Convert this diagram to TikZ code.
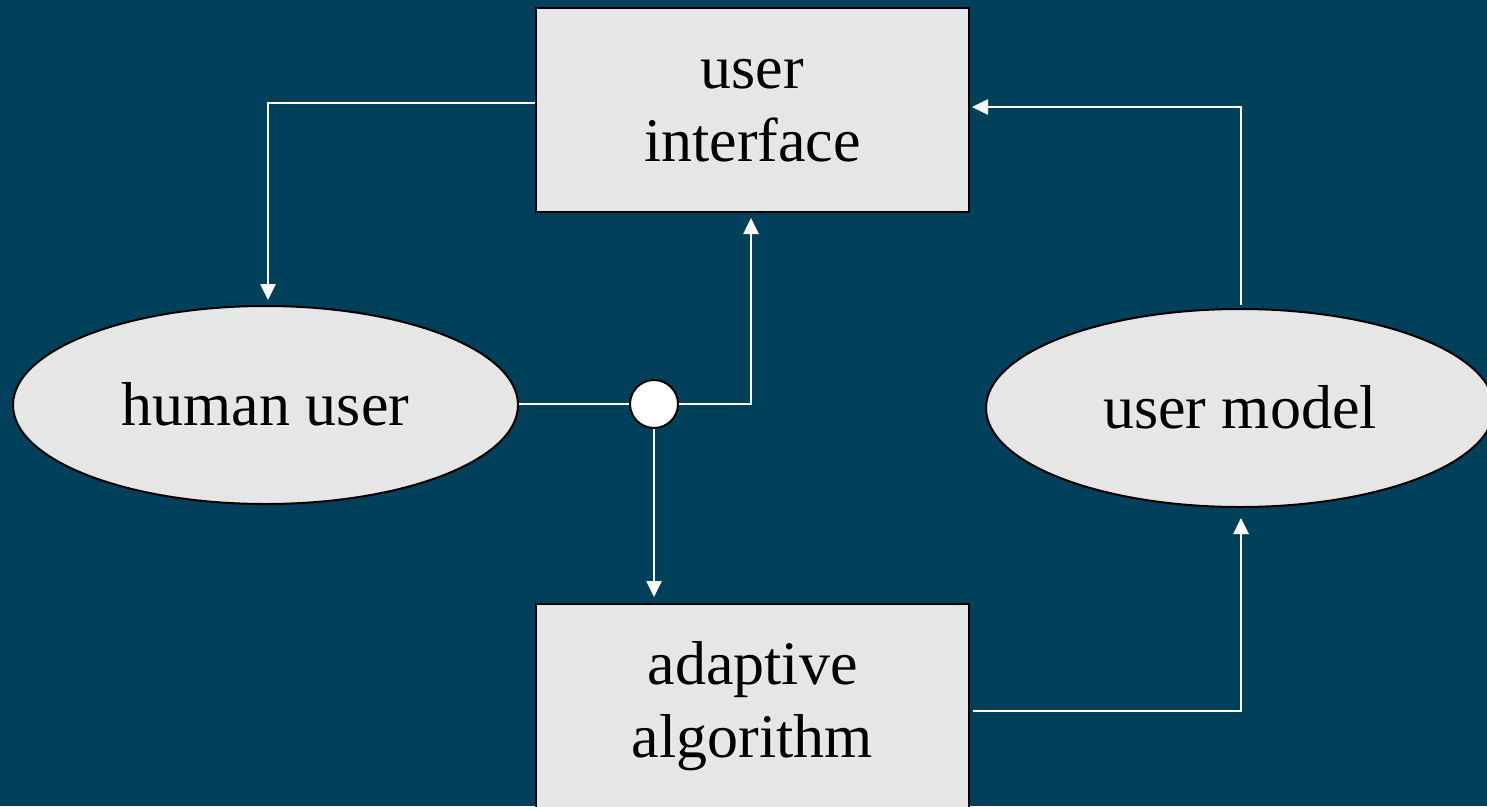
\documentclass[tikz,border=0pt]{standalone}
\usepackage{fontspec}
\setmainfont{Liberation Serif}
\newfontfamily\labelfont{Liberation Serif}
\usetikzlibrary{shapes.geometric,arrows.meta}
\definecolor{bgblue}{HTML}{00405A}
\definecolor{boxgray}{HTML}{E6E6E6}
% text with a faint light halo below-right
\newcommand\glowtext[1]{\leavevmode\rlap{\hspace{1.6pt}\raisebox{-1.6pt}{\color{white!85!gray}#1}}#1}
% two centred lines, lowered a little inside the box
\newcommand\twolines[2]{\raisebox{-4pt}{\begin{tabular}{@{}c@{}}\glowtext{#1}\\\glowtext{#2}\end{tabular}}}
\tikzset{
  blockbox/.style={draw=black, line width=2pt, fill=boxgray, minimum width=433pt, minimum height=204pt, inner sep=0pt, font=\labelfont\fontsize{62}{73}\selectfont},
  blob/.style={ellipse, draw=black, line width=2pt, fill=boxgray, inner sep=0pt, font=\labelfont\fontsize{62}{73}\selectfont},
  junction/.style={circle, draw=black, line width=2pt, fill=white, minimum size=48pt, inner sep=0pt},
  flow/.style={draw=white, line width=2.6pt, -{Triangle[length=16pt,width=15pt]}},
  link/.style={draw=white, line width=2.6pt}
}
\begin{document}
\begin{tikzpicture}[x=1pt,y=-1pt]
\fill[bgblue] (0,0) rectangle (1487,806);
\useasboundingbox (0,0) rectangle (1487,806);
\begin{scope}
\clip (0,0) rectangle (1487,806);
\node[blockbox] (ui) at (752.5,110) {\twolines{user}{interface}};
\node[blockbox] (algo) at (752.5,706) {\twolines{adaptive}{algorithm}};
\node[blob, minimum width=505pt, minimum height=198pt] (human) at (265.5,405) {\glowtext{human user}};
\node[blob, minimum width=508pt, minimum height=198pt] (model) at (1240,408) {\glowtext{user model}};
\node[junction] (hub) at (654,404) {};
\coordinate (c1) at (268,103);
\coordinate (c2) at (751,404);
\coordinate (c3) at (1241,711);
\coordinate (c4) at (1241,107);
% interface -> human user
\draw[flow] (ui.west |- c1) -- (c1) -- (268,300);
% human user -> junction
\draw[link] (human.east |- hub.west) -- (hub.west);
% junction -> interface
\draw[flow] (hub.east) -- (c2) -- (751,218);
% junction -> adaptive algorithm
\draw[flow] (hub.south) -- (654,597);
% adaptive algorithm -> user model
\draw[flow] (973,711) -- (c3) -- (1241,518);
% user model -> interface
\draw[flow] (1241,305) -- (c4) -- (972,107);
\end{scope}
\end{tikzpicture}
\end{document}
